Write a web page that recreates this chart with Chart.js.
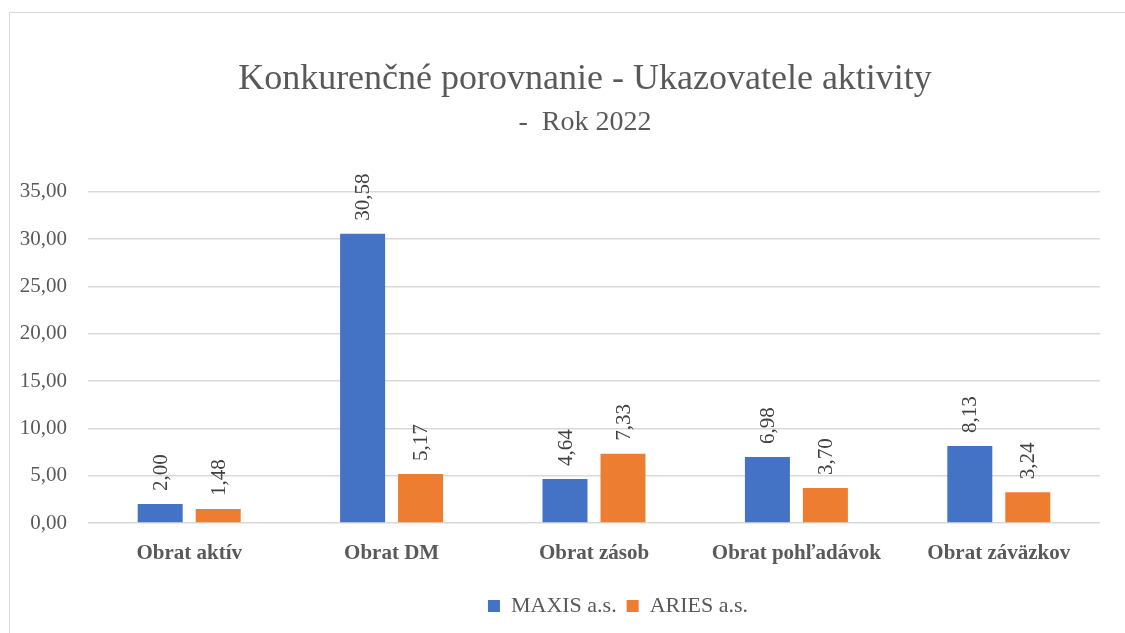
<!DOCTYPE html>
<html>
<head>
<meta charset="utf-8">
<script src="https://cdn.jsdelivr.net/npm/chart.js@4/dist/chart.umd.min.js"></script>
<style>
    html, body { margin: 0; padding: 0; background: #fff; }
    #frame {
        position: absolute; left: 9px; top: 12px;
        width: 1200px; height: 700px;
        border: 1px solid #d9d9d9;
    }
    #wrap { position: absolute; left: 0; top: 0; width: 1125px; height: 633px; }
</style>
</head>
<body>
<div id="frame"></div>
<div id="wrap"><canvas id="chart" width="1125" height="633"></canvas></div>
<script>
const categories = ['Obrat aktív', 'Obrat DM', 'Obrat zásob', 'Obrat pohľadávok', 'Obrat záväzkov'];
const maxisValues = [2.00, 30.58, 4.64, 6.98, 8.13];
const ariesValues = [1.48, 5.17, 7.33, 3.70, 3.24];
const yTicks = [0, 5, 10, 15, 20, 25, 30, 35];

const serif = "'Liberation Serif', 'Times New Roman', serif";
const fmt = v => v.toFixed(2).replace('.', ',');

// vertical value labels above bars
const barLabels = {
    id: 'barLabels',
    afterDatasetsDraw(chart) {
        const ctx = chart.ctx;
        chart.data.datasets.forEach((ds, i) => {
            chart.getDatasetMeta(i).data.forEach((bar, j) => {
                ctx.save();
                ctx.translate(bar.x + 1, bar.y - 13);
                ctx.rotate(-Math.PI / 2);
                ctx.font = `21px ${serif}`;
                ctx.fillStyle = '#404040';
                ctx.textAlign = 'left';
                ctx.textBaseline = 'middle';
                ctx.fillText(fmt(ds.data[j]), 0, 0);
                ctx.restore();
            });
        });
    }
};

// move title, subtitle and legend sideways like in the original
const shiftBoxes = {
    id: 'shiftBoxes',
    afterLayout(chart) {
        chart.boxes.forEach(box => {
            let dx = 0;
            if (box === chart.legend) dx = 63;
            else if (box.options && typeof box.options.text === 'string' && box.options.text.length) dx = 30;
            box.left += dx;
            box.right += dx;
        });
    }
};

new Chart(document.getElementById('chart'), {
    type: 'bar',
    data: {
        labels: categories,
        datasets: [
            { label: 'MAXIS a.s.', data: maxisValues, backgroundColor: '#4472C4' },
            { label: 'ARIES a.s.', data: ariesValues, backgroundColor: '#ED7D31' }
        ]
    },
    plugins: [barLabels, shiftBoxes],
    options: {
        responsive: false,
        animation: false,
        layout: { padding: { left: 10, right: 25, top: 0, bottom: 6 } },
        datasets: {
            bar: { categoryPercentage: 0.573, barPercentage: 0.776 }
        },
        plugins: {
            title: {
                display: true,
                text: 'Konkurenčné porovnanie - Ukazovatele aktivity',
                color: '#595959',
                font: { family: serif, size: 36, weight: 'normal', lineHeight: 1.2 },
                padding: { top: 58, bottom: 0 }
            },
            subtitle: {
                display: true,
                text: '-  Rok 2022',
                color: '#595959',
                font: { family: serif, size: 28, weight: 'normal', lineHeight: 1.2 },
                padding: { top: 5, bottom: 52 }
            },
            legend: {
                position: 'bottom',
                labels: {
                    color: '#595959',
                    font: { family: serif, size: 22 },
                    boxWidth: 12,
                    boxHeight: 12,
                    padding: 10
                }
            },
            tooltip: { enabled: false }
        },
        scales: {
            x: {
                afterFit(scale) { scale.height = 62; },
                grid: { display: false, drawTicks: false },
                border: { display: false },
                ticks: {
                    color: '#595959',
                    font: { family: serif, size: 21, weight: 'bold' },
                    padding: 18,
                    maxRotation: 0
                }
            },
            y: {
                min: 0,
                max: 35,
                afterFit(scale) { scale.width = 78; },
                afterBuildTicks(scale) { scale.ticks = yTicks.map(v => ({ value: v })); },
                grid: { color: '#d9d9d9', lineWidth: 1.5, drawTicks: false },
                border: { display: false },
                ticks: {
                    color: '#595959',
                    font: { family: serif, size: 21 },
                    padding: 21,
                    callback: v => fmt(v)
                }
            }
        }
    }
});
</script>
</body>
</html>
